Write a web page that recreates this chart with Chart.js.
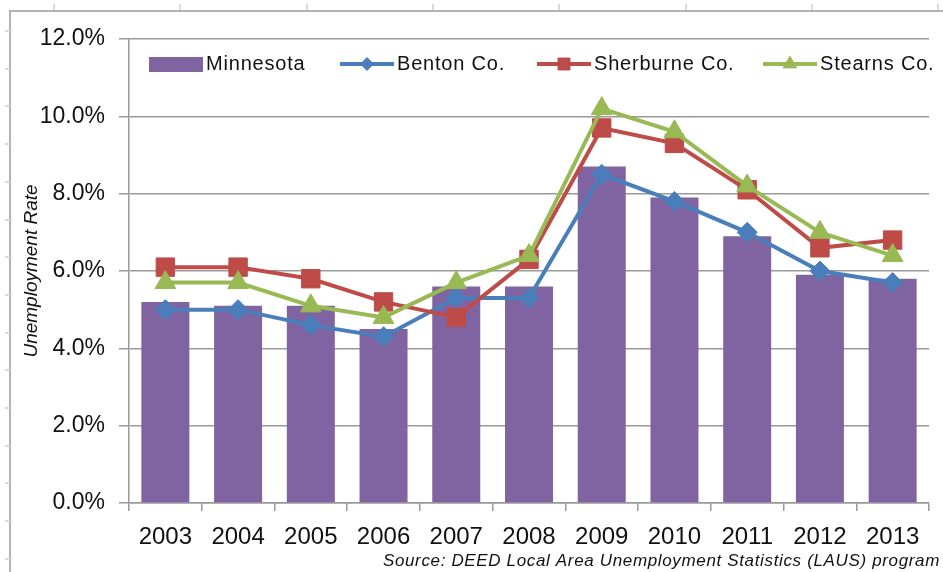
<!DOCTYPE html>
<html>
<head>
<meta charset="utf-8">
<script src="https://cdn.jsdelivr.net/npm/chart.js@4.4.0/dist/chart.umd.min.js"></script>
<style>
  html, body { margin: 0; padding: 0; background: #fff; }
  #wrap { position: relative; width: 943px; height: 572px; overflow: hidden; background: #fff; }
  #frame { position: absolute; left: 9px; top: 10px; width: 1000px; height: 700px; border: 2px solid #b3b3b3; }
  .top-tick { position: absolute; top: 4px; width: 2px; height: 6px; background: #d4dae6; }
  .left-tick { position: absolute; left: 5px; width: 5px; height: 2px; background: #d4dae6; }
  canvas { position: absolute; left: 0; top: 0; }
</style>
</head>
<body>
<div id="wrap">
  <div id="frame"></div>
  <canvas id="chart" width="943" height="572"></canvas>
</div>
<script>
const years = ["2003", "2004", "2005", "2006", "2007", "2008", "2009", "2010", "2011", "2012", "2013"];
const minnesota = [5.2, 5.1, 5.1, 4.5, 5.6, 5.6, 8.7, 7.9, 6.9, 5.9, 5.8];
const benton = [5.0, 5.0, 4.6, 4.3, 5.3, 5.3, 8.5, 7.8, 7.0, 6.0, 5.7];
const sherburne = [6.1, 6.1, 5.8, 5.2, 4.8, 6.3, 9.7, 9.3, 8.1, 6.6, 6.8];
const stearns = [5.7, 5.7, 5.1, 4.8, 5.7, 6.4, 10.2, 9.6, 8.2, 7.0, 6.4];
const yMin = 0;
const yMax = 12;
const yStep = 2;
const sourceNote = "Source: DEED Local Area Unemployment Statistics (LAUS) program";

const palette = {
  purple: "#8064a2",
  blue: "#4a7ebb",
  red: "#be4b48",
  green: "#98b954",
  grid: "#9a9a9a",
  ink: "#111111",
};

const baseFont = "'Liberation Sans', Arial, sans-serif";

// legend swatch left edges, as in the Excel original
const legendSlots = [149, 340, 537, 763];

// decorative tick marks of the neighbouring sheet objects
const wrap = document.getElementById("wrap");
for (let x = 53; x < 943; x += 126.3) {
  const t = document.createElement("div");
  t.className = "top-tick";
  t.style.left = `${Math.round(x)}px`;
  wrap.appendChild(t);
}
for (let y = 30; y < 572; y += 37.7) {
  const t = document.createElement("div");
  t.className = "left-tick";
  t.style.top = `${Math.round(y)}px`;
  wrap.appendChild(t);
}

const insideLegend = {
  id: "insideLegend",
  afterDatasetsDraw(chart) {
    const { ctx } = chart;
    const y = 64;
    ctx.save();
    ctx.font = `20px ${baseFont}`;
    ctx.letterSpacing = "0.8px";
    ctx.textBaseline = "middle";
    ctx.textAlign = "left";
    chart.data.datasets.forEach((ds, i) => {
      const x = legendSlots[i];
      if (ds.type === "bar") {
        ctx.fillStyle = ds.backgroundColor;
        ctx.fillRect(x, y - 7, 54, 15);
      } else {
        ctx.strokeStyle = ds.borderColor;
        ctx.lineWidth = 4;
        ctx.beginPath();
        ctx.moveTo(x, y);
        ctx.lineTo(x + 54, y);
        ctx.stroke();
        ctx.fillStyle = ds.borderColor;
        ctx.lineWidth = 1;
        Chart.helpers.drawPoint(ctx, { pointStyle: ds.pointStyle, radius: ds.pointRadius * 0.65, borderWidth: 1, rotation: 0 }, x + 27, y);
      }
      ctx.fillStyle = palette.ink;
      ctx.fillText(ds.label, x + 57, y);
    });
    ctx.restore();
  },
  afterDraw(chart) {
    const { ctx } = chart;
    ctx.save();
    ctx.font = `italic 17px ${baseFont}`;
    ctx.letterSpacing = "0.65px";
    ctx.fillStyle = palette.ink;
    ctx.textAlign = "right";
    ctx.textBaseline = "middle";
    ctx.fillText(sourceNote, 940, 561);
    ctx.restore();
  },
};

new Chart(document.getElementById("chart"), {
  type: "bar",
  data: {
    labels: years,
    datasets: [
      {
        type: "bar",
        label: "Minnesota",
        data: minnesota,
        backgroundColor: palette.purple,
        categoryPercentage: 1,
        barPercentage: 0.66,
        order: 4,
      },
      {
        type: "line",
        label: "Benton Co.",
        data: benton,
        borderColor: palette.blue,
        backgroundColor: palette.blue,
        borderWidth: 4,
        pointStyle: "rectRot",
        pointRadius: 10,
        pointBorderWidth: 1,
        tension: 0,
        order: 3,
      },
      {
        type: "line",
        label: "Sherburne Co.",
        data: sherburne,
        borderColor: palette.red,
        backgroundColor: palette.red,
        borderWidth: 4,
        pointStyle: "rect",
        pointRadius: 13,
        pointBorderWidth: 1,
        tension: 0,
        order: 2,
      },
      {
        type: "line",
        label: "Stearns Co.",
        data: stearns,
        borderColor: palette.green,
        backgroundColor: palette.green,
        borderWidth: 4,
        pointStyle: "triangle",
        pointRadius: 12,
        pointBorderWidth: 1,
        tension: 0,
        order: 1,
      },
    ],
  },
  options: {
    responsive: false,
    animation: false,
    layout: { padding: { top: 39, right: 3, bottom: 0, left: 0 } },
    plugins: {
      legend: { display: false },
      tooltip: { enabled: false },
    },
    scales: {
      x: {
        offset: true,
        afterFit(scale) { scale.height = 69; },
        grid: { drawOnChartArea: false, drawTicks: true, tickLength: 8, color: palette.grid, lineWidth: 1.5, offset: true },
        border: { color: palette.grid, width: 1.5 },
        ticks: { color: palette.ink, font: { family: baseFont, size: 24 }, padding: 12, maxRotation: 0 },
      },
      y: {
        min: yMin,
        max: yMax,
        afterFit(scale) { scale.width = 129; },
        grid: { color: palette.grid, lineWidth: 1.5, tickLength: 10 },
        border: { color: palette.grid, width: 1.5 },
        ticks: {
          stepSize: yStep,
          color: palette.ink,
          font: { family: baseFont, size: 23 },
          padding: 14,
          callback: (v) => `${v.toFixed(1)}%`,
        },
        title: {
          display: true,
          text: "Unemployment Rate",
          color: palette.ink,
          font: { family: baseFont, size: 19, style: "italic" },
          padding: { top: 20, bottom: 0 },
        },
      },
    },
  },
  plugins: [insideLegend],
});
</script>
</body>
</html>
